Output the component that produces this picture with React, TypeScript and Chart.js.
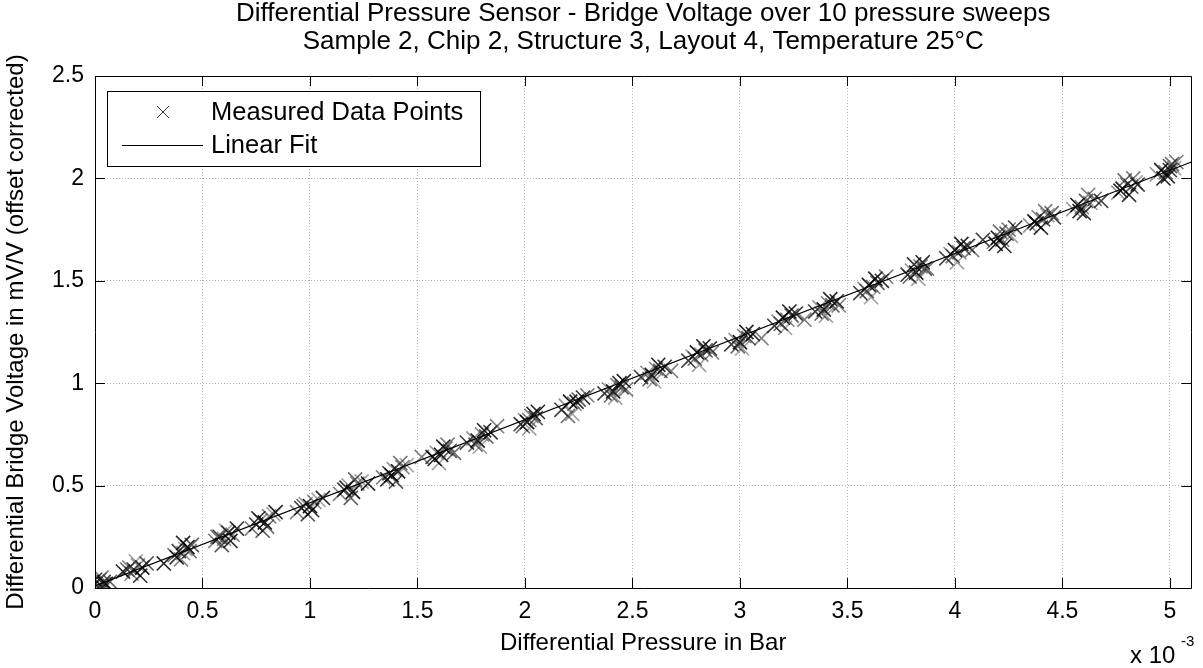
import React, { useEffect, useRef } from 'react';
import { Chart, registerables } from 'chart.js';

Chart.register(...registerables);

// ---------- text ----------
const titleLines = [
  'Differential Pressure Sensor - Bridge Voltage over 10 pressure sweeps',
  'Sample 2, Chip 2, Structure 3, Layout 4, Temperature 25°C',
];
const xAxisTitle = 'Differential Pressure in Bar';
const yAxisTitle = 'Differential Bridge Voltage in mV/V (offset corrected)';
const xExponentBase = 'x 10';
const xExponent = '-3';
const legendLabels = ['Measured Data Points', 'Linear Fit'];

// ---------- axes ----------
const xTicks = [0, 0.5, 1, 1.5, 2, 2.5, 3, 3.5, 4, 4.5, 5];
const yTicks = [0, 0.5, 1, 1.5, 2, 2.5];
const xRange = [0, 5.1];
const yRange = [0, 2.5];

// ---------- data (pressure in 10^-3 bar, voltage in mV/V) ----------
const pressure = [
  0.00, 0.02, 0.04, 0.01, 0.05, 0.03, 0.07, 0.02, 0.00, 0.04,
  0.13, 0.16, 0.18, 0.20, 0.22, 0.17, 0.24, 0.19, 0.21, 0.15,
  0.32,
  0.37, 0.39, 0.41, 0.43, 0.40, 0.45, 0.42, 0.38, 0.44, 0.41,
  0.56, 0.58, 0.60, 0.62, 0.64, 0.59, 0.61, 0.66, 0.57, 0.63,
  0.73, 0.75, 0.77, 0.79, 0.81, 0.78, 0.83, 0.76, 0.80, 0.84,
  0.94, 0.96, 0.98, 1.00, 1.02, 0.99, 1.04, 1.01, 0.97, 1.06,
  1.14, 1.16, 1.18, 1.20, 1.22, 1.19, 1.24, 1.17, 1.21, 1.27,
  1.34, 1.37, 1.39, 1.41, 1.43, 1.40, 1.45, 1.38, 1.42, 1.36,
  1.52,
  1.57, 1.59, 1.61, 1.63, 1.65, 1.60, 1.62, 1.67, 1.58, 1.64,
  1.73, 1.76, 1.78, 1.80, 1.82, 1.79, 1.84, 1.77, 1.81, 1.87,
  1.98, 2.00, 2.01, 2.03, 2.05, 2.02, 2.04, 1.99, 2.06, 2.02,
  2.17, 2.19, 2.21, 2.23, 2.25, 2.22, 2.27, 2.20, 2.24, 2.29,
  2.37, 2.39, 2.41, 2.43, 2.45, 2.42, 2.44, 2.40, 2.46, 2.47,
  2.54, 2.57, 2.59, 2.61, 2.63, 2.60, 2.65, 2.58, 2.62, 2.68,
  2.76, 2.78, 2.80, 2.82, 2.84, 2.81, 2.86, 2.79, 2.83, 2.87,
  2.96, 2.98, 3.00, 3.02, 3.04, 3.01, 3.06, 2.99, 3.03, 3.10,
  3.16, 3.18, 3.20, 3.22, 3.24, 3.21, 3.26, 3.19, 3.23, 3.30,
  3.35, 3.37, 3.39, 3.41, 3.43, 3.40, 3.45, 3.38, 3.42, 3.46,
  3.56, 3.58, 3.60, 3.62, 3.64, 3.61, 3.66, 3.59, 3.63, 3.68,
  3.78, 3.80, 3.82, 3.84, 3.86, 3.83, 3.81, 3.79, 3.85, 3.87,
  3.96, 3.98, 4.00, 4.02, 4.04, 4.01, 4.06, 3.99, 4.03, 4.08,
  4.13,
  4.18, 4.20, 4.22, 4.24, 4.26, 4.23, 4.21, 4.19, 4.25, 4.28,
  4.35, 4.37, 4.39, 4.41, 4.43, 4.40, 4.45, 4.38, 4.42, 4.46,
  4.55, 4.57, 4.59, 4.61, 4.63, 4.60, 4.65, 4.58, 4.62, 4.68,
  4.76, 4.78, 4.80, 4.82, 4.84, 4.81, 4.79, 4.77, 4.83, 4.85,
  4.94, 4.96, 4.98, 5.00, 5.02, 4.99, 5.01, 4.97, 5.03, 5.00,
];
const voltage = [
  0.02, 0.04, 0.03, 0.01, 0.02, 0.05, 0.03, 0.00, 0.04, 0.02,
  0.08, 0.10, 0.09, 0.11, 0.10, 0.07, 0.12, 0.13, 0.06, 0.09,
  0.12,
  0.16, 0.18, 0.17, 0.20, 0.14, 0.21, 0.19, 0.15, 0.18, 0.22,
  0.23, 0.25, 0.24, 0.27, 0.26, 0.21, 0.28, 0.29, 0.25, 0.23,
  0.29, 0.31, 0.33, 0.32, 0.35, 0.28, 0.36, 0.34, 0.30, 0.37,
  0.37, 0.39, 0.41, 0.40, 0.42, 0.36, 0.43, 0.38, 0.40, 0.44,
  0.46, 0.48, 0.50, 0.47, 0.51, 0.44, 0.52, 0.49, 0.53, 0.51,
  0.54, 0.56, 0.58, 0.57, 0.59, 0.52, 0.60, 0.55, 0.61, 0.53,
  0.64,
  0.64, 0.66, 0.65, 0.68, 0.67, 0.61, 0.69, 0.66, 0.63, 0.70,
  0.71, 0.73, 0.72, 0.75, 0.74, 0.69, 0.76, 0.70, 0.77, 0.79,
  0.80, 0.82, 0.81, 0.84, 0.83, 0.78, 0.85, 0.79, 0.86, 0.82,
  0.87, 0.89, 0.91, 0.90, 0.92, 0.85, 0.93, 0.84, 0.91, 0.94,
  0.95, 0.97, 0.96, 0.99, 0.98, 0.93, 1.00, 0.94, 1.01, 0.97,
  1.03, 1.05, 1.04, 1.07, 1.06, 1.01, 1.08, 1.02, 1.09, 1.06,
  1.11, 1.13, 1.15, 1.14, 1.16, 1.09, 1.17, 1.12, 1.18, 1.15,
  1.19, 1.21, 1.20, 1.23, 1.22, 1.17, 1.24, 1.18, 1.25, 1.22,
  1.28, 1.30, 1.32, 1.31, 1.33, 1.27, 1.34, 1.29, 1.35, 1.31,
  1.35, 1.37, 1.36, 1.39, 1.38, 1.33, 1.40, 1.34, 1.41, 1.38,
  1.44, 1.46, 1.48, 1.47, 1.49, 1.42, 1.50, 1.45, 1.51, 1.52,
  1.53, 1.55, 1.54, 1.57, 1.56, 1.51, 1.58, 1.52, 1.59, 1.56,
  1.61, 1.63, 1.65, 1.64, 1.66, 1.59, 1.67, 1.62, 1.68, 1.65,
  1.70,
  1.69, 1.71, 1.70, 1.73, 1.72, 1.67, 1.74, 1.68, 1.75, 1.76,
  1.77, 1.79, 1.81, 1.80, 1.82, 1.76, 1.83, 1.78, 1.84, 1.81,
  1.85, 1.87, 1.86, 1.89, 1.88, 1.83, 1.90, 1.84, 1.92, 1.89,
  1.93, 1.95, 1.97, 1.96, 1.98, 1.92, 1.99, 1.94, 2.00, 1.97,
  2.02, 2.04, 2.03, 2.06, 2.05, 2.01, 2.07, 2.00, 2.08, 2.04,
];
const fitPressure = [0, 5.1];
const fitVoltage = [0.01, 2.08];

// ---------- style ----------
const FONT = '"Liberation Sans", Arial, Helvetica, sans-serif';
const markerShades = ['rgba(0,0,0,0.85)', 'rgba(40,40,40,0.6)', 'rgba(0,0,0,0.75)', 'rgba(60,60,60,0.55)', 'rgba(0,0,0,0.9)', 'rgba(50,50,50,0.6)', 'rgba(20,20,20,0.7)', 'rgba(70,70,70,0.5)', 'rgba(0,0,0,0.8)', 'rgba(30,30,30,0.65)'];

const matlabPlugin = {
  id: 'matlabDecor',
  afterDraw(chart: any) {
    const { ctx, chartArea } = chart;
    const { left, right, top, bottom } = chartArea;
    const xs = chart.scales.x;
    const ys = chart.scales.y;
    ctx.save();

    // frame and inward ticks
    ctx.strokeStyle = '#000';
    ctx.lineWidth = 1;
    ctx.beginPath();
    ctx.rect(Math.round(left) + 0.5, Math.round(top) + 0.5, Math.round(right - left), Math.round(bottom - top));
    ctx.stroke();
    const tl = 10;
    ctx.beginPath();
    xTicks.forEach((v) => {
      const px = Math.round(xs.getPixelForValue(v)) + 0.5;
      ctx.moveTo(px, bottom);
      ctx.lineTo(px, bottom - tl);
      ctx.moveTo(px, top);
      ctx.lineTo(px, top + tl);
    });
    yTicks.forEach((v) => {
      const py = Math.round(ys.getPixelForValue(v)) + 0.5;
      ctx.moveTo(left, py);
      ctx.lineTo(left + tl, py);
      ctx.moveTo(right, py);
      ctx.lineTo(right - tl, py);
    });
    ctx.stroke();

    // legend
    const lx = left + 12;
    const ly = top + 15;
    const lw = 373;
    const lh = 75;
    ctx.fillStyle = '#fff';
    ctx.fillRect(lx, ly, lw, lh);
    ctx.strokeStyle = '#000';
    ctx.strokeRect(Math.round(lx) + 0.5, Math.round(ly) + 0.5, lw, lh);
    const row1 = ly + 21;
    const row2 = ly + 54;
    ctx.strokeStyle = '#333';
    ctx.lineWidth = 1;
    ctx.beginPath();
    const mx = lx + 56;
    ctx.moveTo(mx - 6, row1 - 6);
    ctx.lineTo(mx + 6, row1 + 6);
    ctx.moveTo(mx - 6, row1 + 6);
    ctx.lineTo(mx + 6, row1 - 6);
    ctx.stroke();
    ctx.strokeStyle = '#000';
    ctx.beginPath();
    ctx.moveTo(lx + 15, row2 + 0.5);
    ctx.lineTo(lx + 96, row2 + 0.5);
    ctx.stroke();
    ctx.fillStyle = '#000';
    ctx.font = `25.5px ${FONT}`;
    ctx.textAlign = 'left';
    ctx.textBaseline = 'middle';
    ctx.fillText(legendLabels[0], lx + 104, row1 + 1);
    ctx.fillText(legendLabels[1], lx + 104, row2 + 1);

    // titles
    const cx = (left + right) / 2;
    ctx.textAlign = 'center';
    ctx.font = `26px ${FONT}`;
    ctx.fillText(titleLines[0], cx, 14);
    ctx.fillText(titleLines[1], cx, 42);
    ctx.font = `24px ${FONT}`;
    ctx.fillText(xAxisTitle, cx, 643);
    ctx.save();
    ctx.translate(16, (top + bottom) / 2);
    ctx.rotate(-Math.PI / 2);
    ctx.font = `24px ${FONT}`;
    ctx.fillText(yAxisTitle, 0, 0);
    ctx.restore();

    // exponent label
    ctx.textAlign = 'left';
    ctx.font = `24px ${FONT}`;
    ctx.fillText(xExponentBase, 1130, 656);
    ctx.font = `15px ${FONT}`;
    ctx.fillText(xExponent, 1181, 642);

    ctx.restore();
  },
};

export default function App() {
  const canvasRef = useRef<HTMLCanvasElement | null>(null);

  useEffect(() => {
    const canvas = canvasRef.current;
    if (!canvas) return;
    Chart.defaults.font.family = FONT;
    const points = pressure.map((p, i) => ({ x: p, y: voltage[i] }));
    const fit = fitPressure.map((p, i) => ({ x: p, y: fitVoltage[i] }));
    const tickLabel = (v: any) => String(Number(v));
    const chart = new Chart(canvas, {
      type: 'scatter',
      data: {
        datasets: [
          {
            label: legendLabels[0],
            data: points,
            showLine: false,
            pointStyle: 'crossRot',
            pointRadius: 10,
            pointHoverRadius: 10,
            borderWidth: 1.6,
            borderColor: (c: any) => markerShades[c.dataIndex % markerShades.length],
            backgroundColor: 'transparent',
            order: 1,
          } as any,
          {
            type: 'line',
            label: legendLabels[1],
            data: fit,
            showLine: true,
            borderColor: '#000',
            borderWidth: 1.3,
            pointRadius: 0,
            fill: false,
            order: 0,
          } as any,
        ],
      },
      options: {
        responsive: false,
        animation: false,
        devicePixelRatio: 1,
        layout: { padding: { top: 76, right: 11, left: 0, bottom: 0 } },
        plugins: {
          legend: { display: false },
          title: { display: false },
          tooltip: { enabled: false },
        },
        scales: {
          x: {
            type: 'linear',
            min: xRange[0],
            max: xRange[1],
            afterBuildTicks: (axis: any) => {
              axis.ticks = xTicks.map((v) => ({ value: v }));
            },
            afterFit: (axis: any) => {
              axis.height = 80;
            },
            grid: { color: '#b4b4b4', lineWidth: 1, drawTicks: false },
            border: { display: false, dash: [1, 2] },
            ticks: { color: '#000', font: { size: 23 }, padding: 10, maxRotation: 0, autoSkip: false, callback: tickLabel },
          },
          y: {
            type: 'linear',
            min: yRange[0],
            max: yRange[1],
            afterBuildTicks: (axis: any) => {
              axis.ticks = yTicks.map((v) => ({ value: v }));
            },
            afterFit: (axis: any) => {
              axis.width = 95;
            },
            grid: { color: '#b4b4b4', lineWidth: 1, drawTicks: false },
            border: { display: false, dash: [1, 2] },
            ticks: { color: '#000', font: { size: 23 }, padding: 11, autoSkip: false, callback: tickLabel },
          },
        },
      } as any,
      plugins: [matlabPlugin],
    });
    return () => chart.destroy();
  }, []);

  return (
    <div style={{ position: 'fixed', left: 0, top: 0, width: 1203, height: 668, background: '#fff' }}>
      <canvas ref={canvasRef} width={1203} height={668} style={{ display: 'block' }} />
    </div>
  );
}
